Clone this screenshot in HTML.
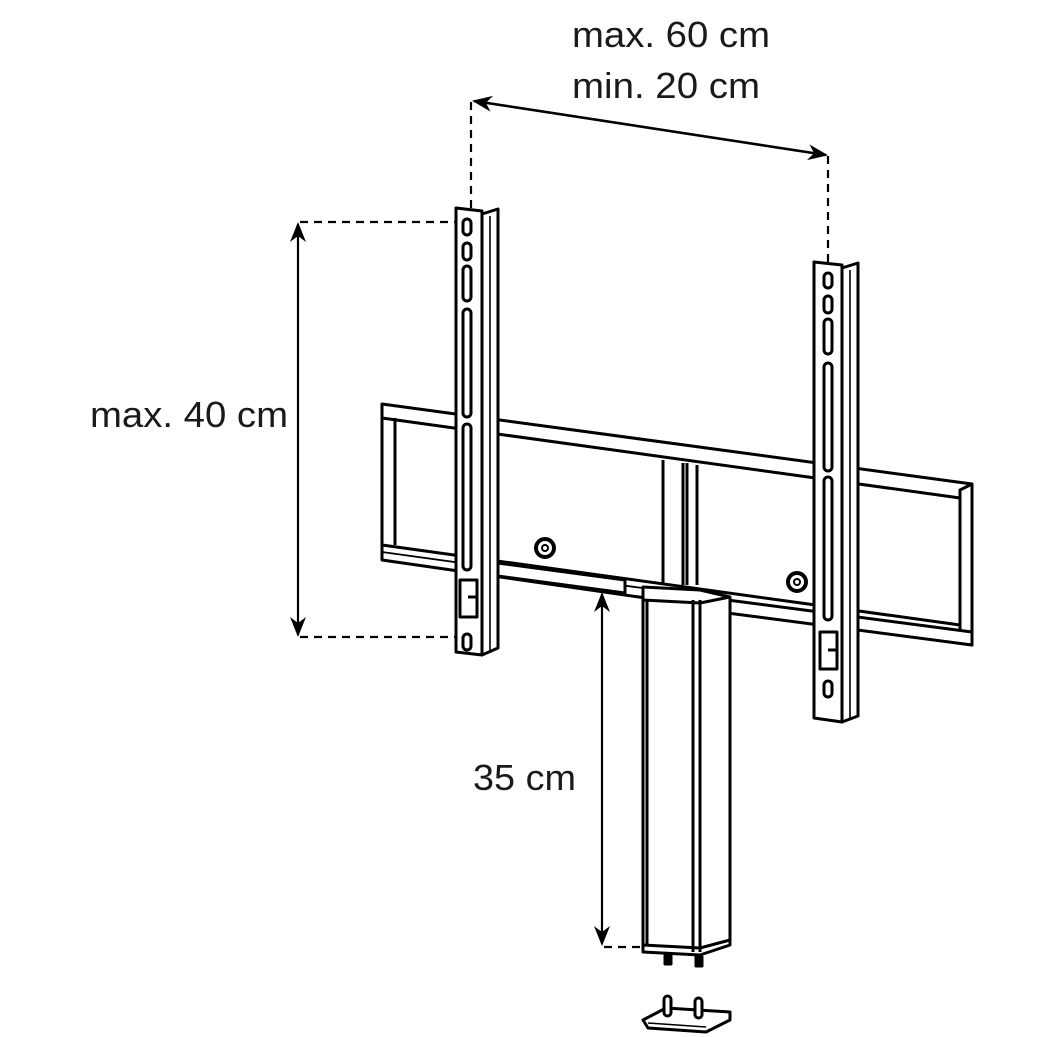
<!DOCTYPE html>
<html><head><meta charset="utf-8"><style>html,body{margin:0;padding:0;background:#fff}svg{display:block}</style></head>
<body>
<svg width="1037" height="1037" viewBox="0 0 1037 1037" xmlns="http://www.w3.org/2000/svg">
<defs>
<marker id="ah" viewBox="0 0 10 10" refX="9" refY="5" markerWidth="20" markerHeight="16" markerUnits="userSpaceOnUse" orient="auto-start-reverse" preserveAspectRatio="none"><path d="M0,0 L10,5 L0,10 L3,5 z" fill="#000"/></marker>
</defs>
<g font-family="Liberation Sans, sans-serif" font-size="36" fill="#1a1a1a">
<text x="572" y="47" textLength="198" lengthAdjust="spacingAndGlyphs">max. 60 cm</text>
<text x="572" y="98" textLength="188" lengthAdjust="spacingAndGlyphs">min. 20 cm</text>
<text x="90" y="427" textLength="198" lengthAdjust="spacingAndGlyphs">max. 40 cm</text>
<text x="473" y="790" textLength="103" lengthAdjust="spacingAndGlyphs">35 cm</text>
</g>
<g fill="none" stroke="#000" stroke-width="2.2">
<line x1="474" y1="101" x2="826" y2="155" marker-start="url(#ah)" marker-end="url(#ah)" stroke-width="2.6"/>
<line x1="298" y1="224" x2="298" y2="635" marker-start="url(#ah)" marker-end="url(#ah)"/>
<line x1="602" y1="594" x2="602" y2="944" marker-start="url(#ah)" marker-end="url(#ah)"/>
<g stroke-dasharray="8,6">
<line x1="471" y1="102" x2="471" y2="208"/>
<line x1="828" y1="156" x2="828" y2="262"/>
<line x1="300" y1="222" x2="455" y2="222"/>
<line x1="300" y1="637" x2="462" y2="637"/>
<line x1="604" y1="947" x2="643" y2="947"/>
</g>
</g>
<g fill="#fff" stroke="#000" stroke-width="3" stroke-linejoin="round">
<polygon points="382,404 972,484 972,645 382,560"/>
<line x1="382" y1="418" x2="960" y2="498"/>
<line x1="395" y1="418" x2="395" y2="545"/>
<line x1="382" y1="545" x2="960" y2="625"/>
<line x1="960" y1="498" x2="960" y2="640"/>
<polygon points="960,490 972,484 972,645 960,640"/>
<line x1="382" y1="552" x2="960" y2="632" stroke-width="1.8"/>
<polygon points="490,562 625,580 625,593 490,575"/>
<polygon points="712,598 972,632 972,645 712,611"/>
<line x1="663" y1="460" x2="663" y2="585"/>
<line x1="683" y1="463" x2="683" y2="585"/>
<line x1="687" y1="463" x2="687" y2="585"/>
<line x1="697" y1="465" x2="697" y2="585"/>
<polygon points="643,587 700,590 730,597 730,945 700,955 643,952"/>
<line x1="647" y1="600" x2="647" y2="945"/>
<line x1="693" y1="600" x2="693" y2="952"/>
<line x1="700" y1="600" x2="700" y2="952"/>
<line x1="643" y1="600" x2="700" y2="603"/>
<line x1="700" y1="603" x2="730" y2="597"/>
<line x1="643" y1="945" x2="700" y2="948"/>
<line x1="700" y1="948" x2="730" y2="940"/>
<rect x="665" y="955" width="6" height="9" fill="#000"/>
<rect x="696" y="957" width="6" height="9" fill="#000"/>
<polygon points="643,1020 666,1008 730,1012 730,1020 706,1032 648,1028"/>
<line x1="648" y1="1023" x2="706" y2="1027" stroke-width="1.6"/>
<rect x="664" y="996" width="7" height="20" rx="3.5"/>
<rect x="695" y="998" width="7" height="20" rx="3.5"/>
<circle cx="545" cy="548" r="9" stroke-width="4"/><circle cx="545" cy="548" r="3" fill="#fff" stroke-width="2"/>
<circle cx="797" cy="582" r="9" stroke-width="4"/><circle cx="797" cy="582" r="3" fill="#fff" stroke-width="2"/>
</g>
<g fill="#fff" stroke="#000" stroke-width="3" stroke-linejoin="round">
<polygon points="482,214 498,209 498,648 482,655"/>
<line x1="490" y1="216" x2="490" y2="650" stroke-width="1.6"/>
<polygon points="456,208 482,211 482,655 456,652"/>
<rect x="463" y="219" width="8" height="16" rx="4"/>
<rect x="463" y="243" width="8" height="17" rx="4"/>
<rect x="463" y="266" width="8" height="35" rx="4"/>
<rect x="463" y="309" width="8" height="108" rx="4"/>
<rect x="463" y="424" width="8" height="146" rx="4"/>
<rect x="460" y="580" width="17" height="37"/>
<line x1="468" y1="597" x2="477" y2="597"/>
<rect x="463" y="634" width="8" height="16" rx="4"/>
</g>
<g fill="#fff" stroke="#000" stroke-width="3" stroke-linejoin="round">
<polygon points="842,268 858,263 858,716 842,722"/>
<line x1="850" y1="270" x2="850" y2="718" stroke-width="1.6"/>
<polygon points="814,262 842,265 842,722 814,718"/>
<rect x="824" y="273" width="8" height="15" rx="4"/>
<rect x="824" y="296" width="8" height="17" rx="4"/>
<rect x="824" y="319" width="8" height="35" rx="4"/>
<rect x="824" y="363" width="8" height="108" rx="4"/>
<rect x="824" y="477" width="8" height="143" rx="4"/>
<rect x="820" y="632" width="17" height="37"/>
<line x1="828" y1="650" x2="837" y2="650"/>
<rect x="824" y="681" width="8" height="16" rx="4"/>
</g>
</svg>
</body></html>
